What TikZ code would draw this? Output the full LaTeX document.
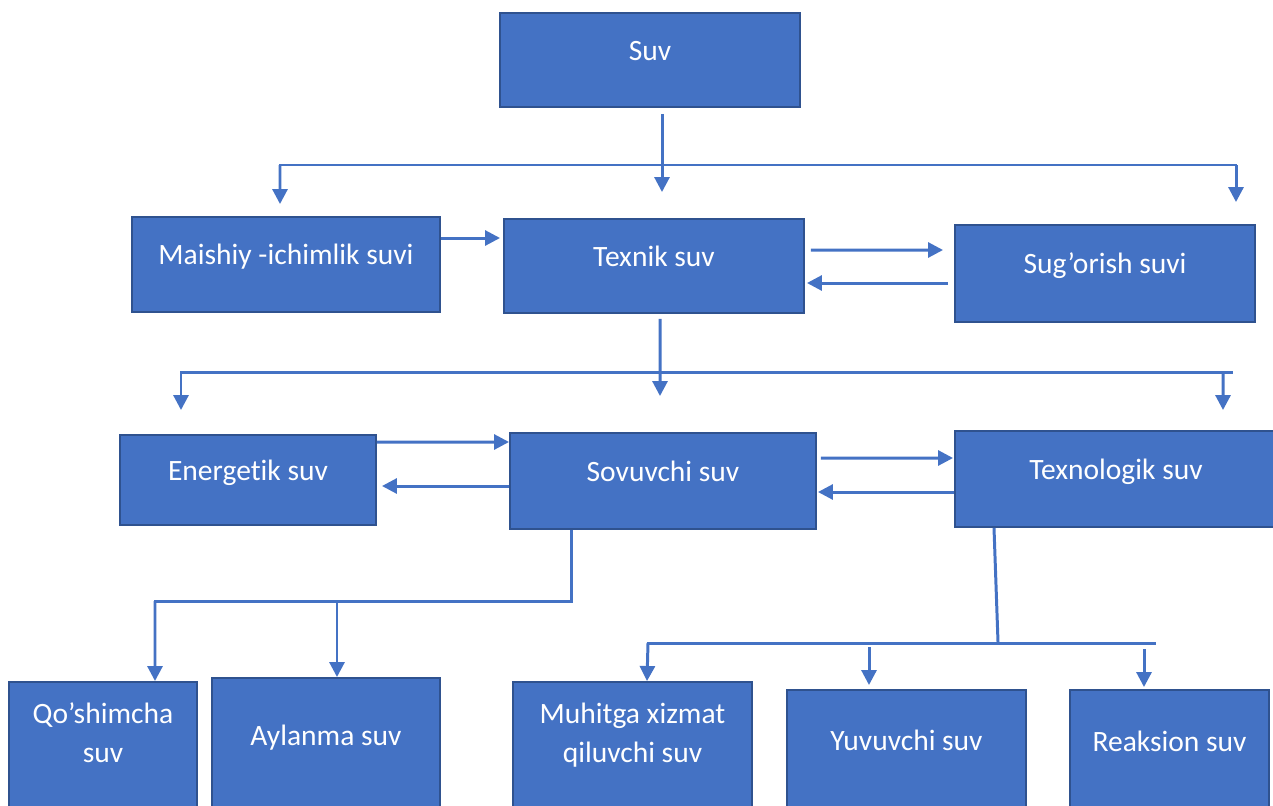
\documentclass[tikz,border=0pt]{standalone}
\usepackage{fontspec}
\setmainfont{Carlito}[Ligatures=NoCommon]
\usepackage{xcolor}
\usepackage{tikz}
\usetikzlibrary{shapes,arrows,positioning,calc,arrows.meta}

\definecolor{boxblue}{HTML}{4472C4}
\definecolor{edgeblue}{HTML}{2F528F}

\begin{document}
\begin{tikzpicture}[
    box/.style={rectangle, draw=edgeblue, line width=0.55pt, fill=boxblue, text=white, inner sep=0pt,
      font=\fontsize{8.4}{11.1}\selectfont, text height=0.2cm, text depth=0.2cm},
    twoline/.style={box, align=center, text height=0.58cm, text depth=0.26cm},
    line/.style={draw=boxblue, line width=0.85pt},
    arrow/.style={line, -{Triangle[length=0.15cm, width=0.15cm]}}
]
\useasboundingbox (0,0) rectangle (12.73,-8.05);

% Boxes
\node[box, minimum width=3.00cm, minimum height=0.94cm] (suv) at (6.50,-0.60) {Suv};
\node[box, minimum width=3.08cm, minimum height=0.95cm] (maishiy) at (2.86,-2.645) {Maishiy -ichimlik suvi};
\node[box, minimum width=3.00cm, minimum height=0.94cm] (texnik) at (6.54,-2.66) {Texnik suv};
\node[box, minimum width=3.00cm, minimum height=0.97cm] (sugorish) at (11.05,-2.735) {Sug’orish suvi};
\node[box, minimum width=2.56cm, minimum height=0.90cm] (energetik) at (2.48,-4.80) {Energetik suv};
\node[box, minimum width=3.06cm, minimum height=0.96cm] (sovuvchi) at (6.63,-4.81) {Sovuvchi suv};
\node[box, minimum width=3.22cm, minimum height=0.96cm] (texnologik) at (11.16,-4.79) {Texnologik suv};
\node[twoline, minimum width=1.88cm, minimum height=1.28cm] (qoshimcha) at (1.03,-7.46) {Qo’shimcha\\suv};
\node[box, minimum width=2.28cm, minimum height=1.34cm] (aylanma) at (3.26,-7.45) {Aylanma suv};
\node[twoline, minimum width=2.39cm, minimum height=1.28cm] (muhitga) at (6.325,-7.46) {Muhitga xizmat\\qiluvchi suv};
\node[box, minimum width=2.39cm, minimum height=1.20cm] (yuvuvchi) at (9.065,-7.50) {Yuvuvchi suv};
\node[box, minimum width=1.99cm, minimum height=1.22cm] (reaksion) at (11.695,-7.51) {Reaksion suv};

% Branch points
\coordinate (b1l) at (2.79,-1.65);
\coordinate (b1r) at (12.37,-1.65);
\coordinate (b2l) at (1.80,-3.72);
\coordinate (b2r) at (12.33,-3.72);
\coordinate (b3l) at (1.54,-6.01);
\coordinate (b4m) at (9.98,-6.42);
\coordinate (b4l) at (6.47,-6.43);
\coordinate (b4r) at (11.56,-6.43);

% Connections
\draw[line] (b1l) -- (b1r);
\draw[arrow] ([xshift=0.12cm,yshift=-0.06cm]suv.south) -- ([xshift=0.08cm,yshift=0.26cm]texnik.north);
\draw[arrow] ([xshift=0.01cm]b1l) -- ([xshift=-0.06cm,yshift=0.12cm]maishiy.north);
\draw[arrow] ([xshift=-0.01cm]b1r) -- ([xshift=1.31cm,yshift=0.22cm]sugorish.north);
\draw[arrow] ([yshift=0.265cm]maishiy.east) -- ([xshift=-0.03cm,yshift=0.28cm]texnik.west);
\draw[arrow] ([xshift=0.06cm,yshift=0.16cm]texnik.east) -- ([xshift=-0.11cm,yshift=0.235cm]sugorish.west);
\draw[arrow] ([xshift=-0.06cm,yshift=-0.095cm]sugorish.west) -- ([xshift=0.02cm,yshift=-0.17cm]texnik.east);

\draw[line] (b2l) -- (b2r);
\draw[arrow] ([xshift=0.06cm,yshift=-0.05cm]texnik.south) -- ([xshift=-0.03cm,yshift=0.36cm]sovuvchi.north);
\draw[arrow] ([xshift=0.01cm]b2l) -- ([xshift=-0.67cm,yshift=0.24cm]energetik.north);
\draw[arrow] ([xshift=-0.10cm]b2r) -- ([xshift=1.07cm,yshift=0.20cm]texnologik.north);
\draw[arrow] ([yshift=0.38cm]energetik.east) -- ([yshift=0.39cm]sovuvchi.west);
\draw[arrow] ([yshift=-0.05cm]sovuvchi.west) -- ([xshift=0.05cm,yshift=-0.06cm]energetik.east);
\draw[arrow] ([xshift=0.04cm,yshift=0.23cm]sovuvchi.east) -- ([xshift=-0.01cm,yshift=0.21cm]texnologik.west);
\draw[arrow] ([yshift=-0.13cm]texnologik.west) -- ([xshift=0.01cm,yshift=-0.11cm]sovuvchi.east);

\draw[line] ([xshift=-0.92cm]sovuvchi.south) |- (b3l);
\draw[arrow] ([xshift=0.01cm]b3l) -- ([xshift=0.52cm]qoshimcha.north);
\draw[arrow] ([xshift=0.11cm]aylanma.north |- b3l) -- ([xshift=0.11cm]aylanma.north);

\draw[line] ([xshift=-1.22cm]texnologik.south) -- (b4m);
\draw[line] (b4l) -- (b4r);
\draw[arrow] ([xshift=0.01cm]b4l) -- ([xshift=0.145cm]muhitga.north);
\draw[arrow] ([xshift=-0.375cm,yshift=0.42cm]yuvuvchi.north) -- ([xshift=-0.375cm,yshift=0.04cm]yuvuvchi.north);
\draw[arrow] ([xshift=-0.255cm,yshift=0.40cm]reaksion.north) -- ([xshift=-0.255cm,yshift=0.02cm]reaksion.north);

\end{tikzpicture}
\end{document}
